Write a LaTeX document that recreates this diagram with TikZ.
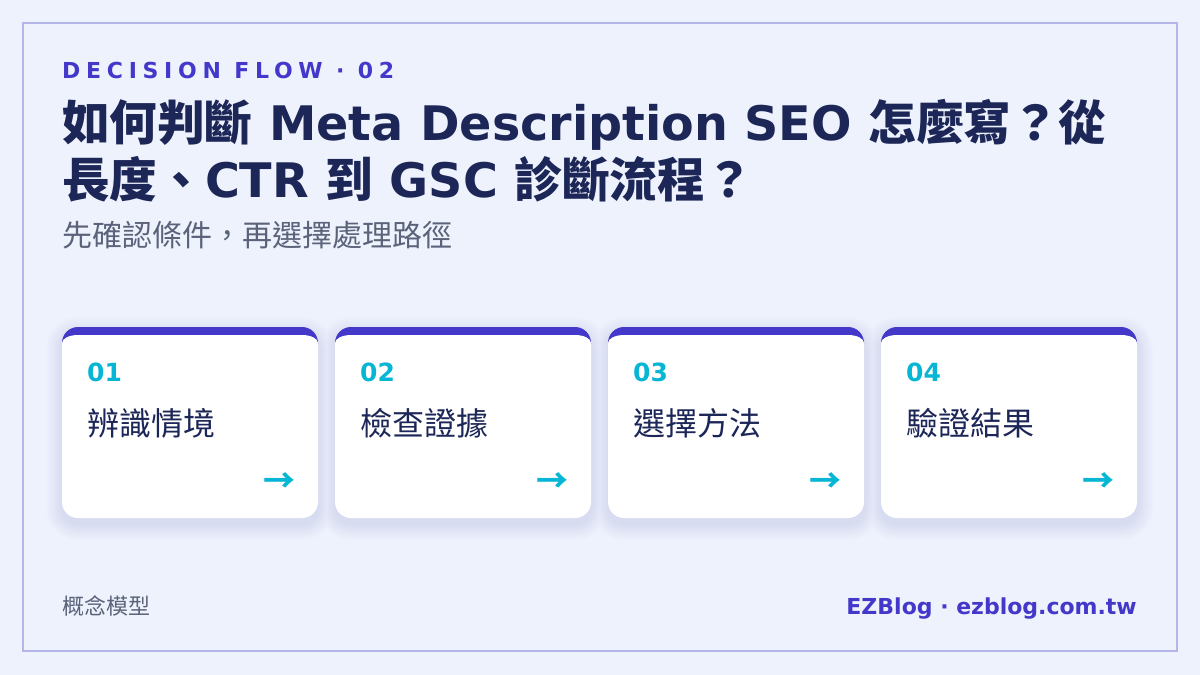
\documentclass[tikz,border=0pt]{standalone}
\usepackage{fontspec}
\usepackage{xcolor}
\usepackage{tikz}
\setmainfont{DejaVu Sans}
\newfontfamily\cjk{Noto Sans CJK TC}
\newfontfamily\kickerfont[LetterSpace=26]{DejaVu Sans}
\definecolor{bg}{HTML}{EEF2FD}
\definecolor{frame}{HTML}{B4B6EA}
\definecolor{indigo}{HTML}{4338CA}
\definecolor{ink}{HTML}{1C2657}
\definecolor{muted}{HTML}{5A6379}
\definecolor{accent}{HTML}{06B6D4}
\definecolor{shade}{HTML}{D8DCF0}
\tikzset{
  kicker/.style={text=indigo, font=\kickerfont\bfseries\fontsize{22}{26}\selectfont, anchor=base west, inner sep=0pt},
  headline/.style={text=ink, font=\bfseries\fontsize{47.6}{58}\selectfont, anchor=base west, inner sep=0pt},
  lede/.style={text=muted, font=\cjk\fontsize{30}{36}\selectfont, anchor=base west, inner sep=0pt},
  stepnum/.style={text=accent, font=\bfseries\fontsize{25}{29}\selectfont, anchor=base west, inner sep=0pt},
  steptext/.style={text=ink, font=\cjk\fontsize{32}{38}\selectfont, anchor=base west, inner sep=0pt},
  steparrow/.style={text=accent, font=\cjk\bfseries\fontsize{32}{38}\selectfont, anchor=east, inner sep=0pt},
  footnote/.style={text=muted, font=\cjk\fontsize{22}{26}\selectfont, anchor=base west, inner sep=0pt},
  brand/.style={text=indigo, font=\bfseries\fontsize{22}{26}\selectfont, anchor=base east, inner sep=0pt},
}
\begin{document}
\begin{tikzpicture}[x=1pt, y=-1pt]
\fill[bg] (0,0) rectangle (1200,675);
\useasboundingbox (0,0) rectangle (1200,675);
\draw[frame, line width=2pt] (23,23) rectangle (1177,651);

\node[kicker] (kick) at (62,78) {DECISION FLOW · 02};
\node[headline] (head1) at (62,140) {{\cjk 如何判斷} Meta Description SEO {\cjk 怎麼寫？從}};
\node[headline] (head2) at (62,197) {{\cjk 長度、}CTR {\cjk 到} GSC {\cjk 診斷流程？}};
\node[lede] (sub) at (62,246) {先確認條件，再選擇處理路徑};

\foreach \s in {16,...,1}{
  \pgfmathtruncatemacro\pct{(17-\s)*100/16}
  \foreach \i in {0,...,3}{
    \pgfmathsetmacro\xa{62+273*\i}
    \pgfmathsetmacro\xb{\xa+256}
    \fill[shade!\pct!bg, rounded corners=16+\s] (\xa-\s,327-\s+6) rectangle (\xb+\s,518+\s+6);
  }
}

\foreach \i/\num/\txt in {0/01/辨識情境, 1/02/檢查證據, 2/03/選擇方法, 3/04/驗證結果}{
  \pgfmathsetmacro\xa{62+273*\i}
  \pgfmathsetmacro\xb{\xa+256}
  \fill[indigo, rounded corners=16] (\xa,327) rectangle (\xb,360);
  \fill[white] (\xa,343) arc[start angle=180, end angle=270, x radius=16, y radius=8]
    -- (\xb-16,335) arc[start angle=270, end angle=360, x radius=16, y radius=8]
    -- (\xb,502) arc[start angle=0, end angle=90, radius=16]
    -- (\xa+16,518) arc[start angle=90, end angle=180, radius=16] -- cycle;
  \node[stepnum] (num\i) at (\xa+25,381) {\num};
  \node[steptext] (lbl\i) at (\xa+25,435) {\txt};
  \node[steparrow] (go\i) at (\xb-22,483) {→};
}

\node[footnote] (model) at (62,614) {概念模型};
\node[brand] (site) at (1137,614) {EZBlog · ezblog.com.tw};
\end{tikzpicture}
\end{document}
